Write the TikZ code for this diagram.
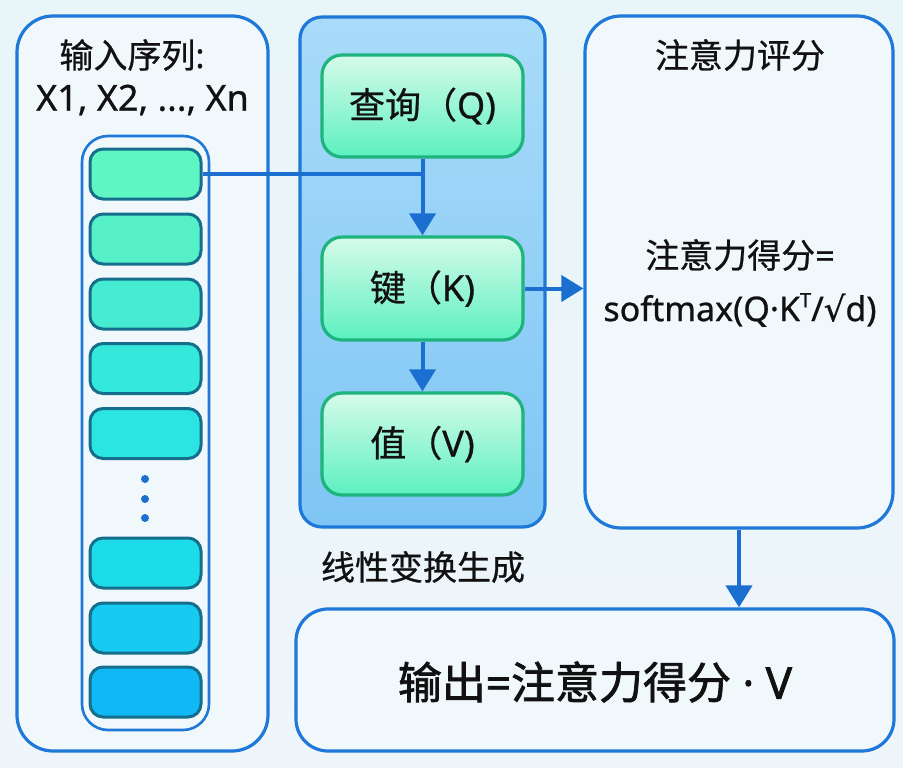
\documentclass[tikz,border=0pt]{standalone}
\usepackage{fontspec}
\setmainfont{Noto Sans}[FakeBold=0.7]
\newfontfamily\cjk{Noto Sans CJK SC}[FakeBold=0.7]
\newfontfamily\lat{Noto Sans}[FakeBold=1.6]
\newfontfamily\cjkb{Noto Sans CJK SC}[FakeBold=1.6]
\newfontfamily\djv{DejaVu Sans}[FakeBold=0.7]
\usetikzlibrary{arrows.meta}
\definecolor{bgA}{HTML}{E8F5F9}
\definecolor{bgB}{HTML}{EEF5FB}
\definecolor{edgeblue}{HTML}{1E78D8}
\definecolor{panelfill}{HTML}{F1F8FC}
\definecolor{midtop}{HTML}{A9DBF9}
\definecolor{midbot}{HTML}{7EC6F5}
\definecolor{qkvtop}{HTML}{D6FBEA}
\definecolor{qkvbot}{HTML}{5CF0C0}
\definecolor{qkvedge}{HTML}{1DB47E}
\definecolor{celledge}{HTML}{146E8C}
\definecolor{arrowblue}{HTML}{1A6FD0}
\definecolor{txt}{HTML}{111111}
\definecolor{cA}{HTML}{5FF6C4}
\definecolor{cB}{HTML}{55F0C8}
\definecolor{cC}{HTML}{46ECD1}
\definecolor{cD}{HTML}{35E8DC}
\definecolor{cE}{HTML}{2BE5E2}
\definecolor{cF}{HTML}{1DDCEA}
\definecolor{cG}{HTML}{16CAF2}
\definecolor{cH}{HTML}{10B8F6}
\newcommand{\fsz}[1]{\fontsize{#1}{#1}\selectfont}
\begin{document}
\begin{tikzpicture}[x=1pt,y=-1pt,
  panel/.style={draw=edgeblue, line width=3.2pt, fill=panelfill, rectangle, inner sep=0pt},
  midpanel/.style={draw=edgeblue, line width=3.2pt, top color=midtop, bottom color=midbot, rectangle, rounded corners=22pt, inner sep=0pt},
  qkv/.style={draw=qkvedge, line width=3.2pt, top color=qkvtop, bottom color=qkvbot, rectangle, rounded corners=20pt, minimum width=201pt, minimum height=102pt, inner sep=0pt, text=txt},
  cell/.style={draw=celledge, line width=3pt, rectangle, rounded corners=13pt, minimum width=111pt, minimum height=50pt, inner sep=0pt},
  lbl/.style={text=txt, inner sep=0pt, align=center},
  arr/.style={draw=arrowblue, line width=4pt, -{Triangle[length=22pt,width=26pt]}},
  ln/.style={draw=arrowblue, line width=4pt},
  dotm/.style={circle, fill=arrowblue, minimum size=8pt, inner sep=0pt}
]
\useasboundingbox (0,0) rectangle (903,768);
\fill[top color=bgA, bottom color=bgB] (0,0) rectangle (903,768);

% left panel
\node[panel, rounded corners=36pt, minimum width=251pt, minimum height=735pt] (left) at (142.5,383.5) {};
\node[lbl] (lt1) at (132,55) {\fsz{34}{\cjk 输入序列}:};
\node[lbl] (lt2) at (142.5,100) {\fsz{36}X1, X2, ..., Xn};
\node[draw=edgeblue, line width=2.6pt, fill=panelfill, rectangle, rounded corners=26pt, minimum width=127pt, minimum height=594pt, inner sep=0pt] (col) at (145.5,433) {};
\node[cell, fill=cA] (c1) at (145.5,174) {};
\node[cell, fill=cB] (c2) at (145.5,239) {};
\node[cell, fill=cC] (c3) at (145.5,304) {};
\node[cell, fill=cD] (c4) at (145.5,368.5) {};
\node[cell, fill=cE] (c5) at (145.5,433.5) {};
\node[dotm] (d1) at (145,479) {};
\node[dotm] (d2) at (145,499) {};
\node[dotm] (d3) at (145,518) {};
\node[cell, fill=cF] (c6) at (145.5,563) {};
\node[cell, fill=cG] (c7) at (145.5,628) {};
\node[cell, fill=cH] (c8) at (145.5,692) {};

% middle panel
\node[midpanel, minimum width=245pt, minimum height=510pt] (mid) at (422.5,272) {};
\node[qkv] (Q) at (422.5,106) {\fsz{36}{\cjk 查询（}Q)};
\node[qkv, minimum height=103pt] (K) at (422.5,288.5) {\fsz{36}{\cjk 键（}K)};
\node[qkv] (V) at (422.5,444) {\fsz{36}{\cjk 值（}V)};
\node[lbl] (midlbl) at (423,567) {\fsz{34}\cjk 线性变换生成};

% right panel
\node[panel, rounded corners=36pt, minimum width=308pt, minimum height=512pt] (right) at (739,272) {};
\node[lbl] (rt) at (740,55) {\fsz{34}\cjk 注意力评分};
\node[lbl] (f1) at (740,255) {\fsz{34}{\cjk 注意力得分}=};
\node[lbl] (f2) at (740,310) {\fsz{34}softmax(Q·K\raisebox{0.75ex}{\fsz{20}T}/{\djv √}d)};

% bottom box
\node[panel, rounded corners=32pt, minimum width=598pt, minimum height=142pt] (out) at (595,680) {};
\node[lbl] (ot) at (595,682) {\fsz{44}{\cjkb 输出}{\lat =}{\cjkb 注意力得分}{\lat{} · V}};

% connectors
\draw[ln] (c1.east) -- (c1.east -| Q.south);
\draw[arr] (Q.south) -- (K.north);
\draw[arr] (K.south) -- (V.north);
\draw[arr] (K.east) -- (K.east -| right.west);
\draw[arr] (right.south) -- (right.south |- out.north);
\end{tikzpicture}
\end{document}
